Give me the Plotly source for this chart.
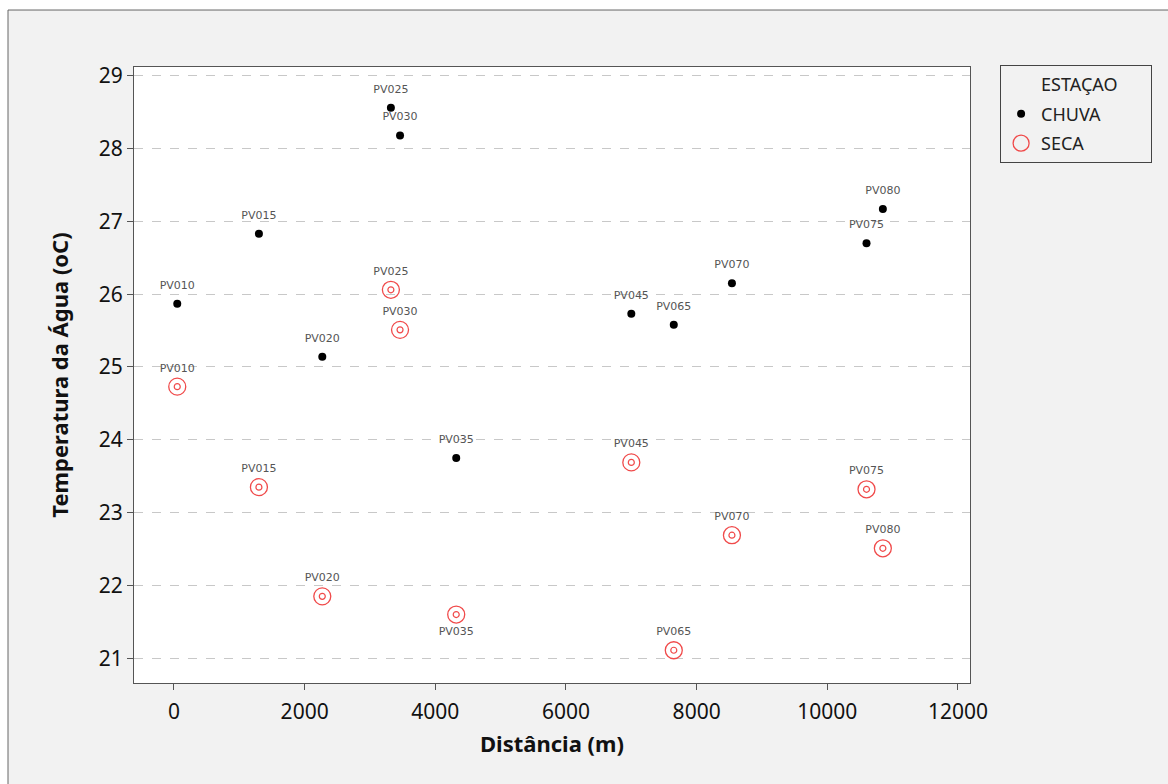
import plotly.graph_objects as go

stations = ["PV010", "PV015", "PV020", "PV025", "PV030", "PV035",
            "PV045", "PV065", "PV070", "PV075", "PV080"]
distance = [50, 1300, 2270, 3320, 3460, 4320, 7000, 7650, 8540, 10600, 10850]
temp_chuva = [25.87, 26.83, 25.14, 28.56, 28.18, 23.75, 25.73, 25.58, 26.15, 26.70, 27.17]
temp_seca = [24.73, 23.35, 21.85, 26.06, 25.51, 21.60, 23.69, 21.11, 22.69, 23.32, 22.51]
seca_label_pos = ["top center"] * 5 + ["bottom center"] + ["top center"] * 5
chuva_label_pos = ["top center"] * 11

x_ticks = [0, 2000, 4000, 6000, 8000, 10000, 12000]
x_ticktext = ["0", "2000", "4000", "6000", "8000", "10000", "12000"]
y_ticks = [21, 22, 23, 24, 25, 26, 27, 28, 29]

FONT = "Noto Sans"
RED = "#f04a4a"
LABEL_FONT = dict(family="DejaVu Sans", size=11, color="#555555")
NB = "\u00a0"

fig = go.Figure()

fig.add_trace(go.Scatter(
    x=[None], y=[None], mode="markers", name="ESTAÇAO" + NB * 6, legendgroup="a",
    marker=dict(size=8, color="rgba(0,0,0,0)"), hoverinfo="skip"))

fig.add_trace(go.Scatter(
    x=distance, y=temp_chuva, mode="markers", name="CHUVA", legendgroup="b",
    marker=dict(size=8, color="black")))

fig.add_trace(go.Scatter(
    x=distance, y=temp_seca, mode="markers", name="SECA", legendgroup="c",
    marker=dict(size=17, color=RED, symbol="circle-open",
                line=dict(width=1.3, color=RED))))

fig.add_trace(go.Scatter(
    x=distance, y=temp_seca, mode="markers", showlegend=False, legendgroup="c",
    marker=dict(size=6, color=RED, symbol="circle-open",
                line=dict(width=1.2, color=RED)), hoverinfo="skip"))

# labels (invisible markers set the label offset)
fig.add_trace(go.Scatter(
    x=distance, y=temp_chuva, mode="markers+text", showlegend=False,
    text=stations, textposition=chuva_label_pos, textfont=LABEL_FONT,
    marker=dict(size=18, color="rgba(0,0,0,0)"), hoverinfo="skip"))
fig.add_trace(go.Scatter(
    x=distance, y=temp_seca, mode="markers+text", showlegend=False,
    text=stations, textposition=seca_label_pos, textfont=LABEL_FONT,
    marker=dict(size=18, color="rgba(0,0,0,0)"), hoverinfo="skip"))

fig.update_layout(
    width=1168, height=784,
    margin=dict(l=134, r=198, t=67, b=101, autoexpand=False),
    paper_bgcolor="#f2f2f2", plot_bgcolor="white",
    font=dict(family=FONT, color="#111111"),
    showlegend=True,
    legend=dict(x=1.036, y=1.003, xanchor="left", yanchor="top",
                bgcolor="rgba(0,0,0,0)", bordercolor="#444444", borderwidth=1,
                font=dict(family=FONT, size=18, color="#222222"),
                itemsizing="trace", tracegroupgap=3,
                traceorder="grouped"),
    xaxis=dict(range=[-612, 12184], tickvals=x_ticks, ticktext=x_ticktext,
               showgrid=False, zeroline=False, automargin=False,
               showline=True, linecolor="#555555", linewidth=1, mirror=True,
               ticks="outside", ticklen=6, tickcolor="#555555", ticklabelstandoff=4,
               tickfont=dict(size=21, color="#111111"),
               title=dict(text="<b>Distância (m)</b>", font=dict(size=22, color="#111111"), standoff=12)),
    yaxis=dict(range=[20.66, 29.12], tickvals=y_ticks,
               showgrid=True, gridcolor="#c8c8c8", griddash="dash", gridwidth=1,
               zeroline=False, automargin=False,
               showline=True, linecolor="#555555", linewidth=1, mirror=True,
               ticks="outside", ticklen=6, tickcolor="#555555",
               tickfont=dict(size=21, color="#111111"),
               title=dict(text="<b>Temperatura da Água (oC)</b>", font=dict(size=22, color="#111111"), standoff=24)),
    shapes=[
        dict(type="rect", xref="paper", yref="paper", x0=-0.3, x1=1.5, y0=1.0925, y1=1.3,
             fillcolor="white", line=dict(width=0), layer="below"),
        dict(type="rect", xref="paper", yref="paper", x0=-0.3, x1=-0.1507, y0=-0.5, y1=1.3,
             fillcolor="white", line=dict(width=0), layer="below"),
        dict(type="line", xref="paper", yref="paper", x0=-0.1507, x1=1.5, y0=1.0925, y1=1.0925,
             line=dict(color="#666666", width=1), layer="below"),
        dict(type="line", xref="paper", yref="paper", x0=-0.1507, x1=-0.1507, y0=-0.5, y1=1.0925,
             line=dict(color="#666666", width=1), layer="below"),
    ],
)

fig.write_html("out.html")
